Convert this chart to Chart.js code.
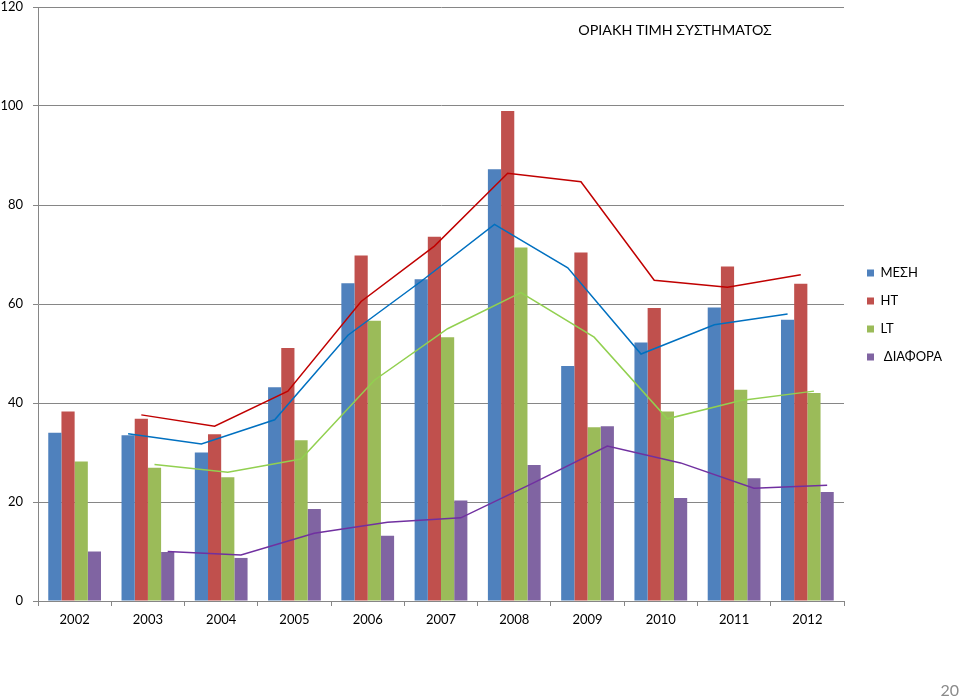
<!DOCTYPE html>
<html><head><meta charset="utf-8">
<script src="https://cdn.jsdelivr.net/npm/chart.js@4/dist/chart.umd.min.js"></script>
<style>html,body{margin:0;padding:0;background:#fff;}#wrap{position:relative;width:960px;height:698px;}canvas{position:absolute;left:0;top:0;display:block;}</style>
</head><body>
<div id="wrap"><canvas id="c" width="960" height="698"></canvas><canvas id="t" width="960" height="698"></canvas></div>
<script>
// ---- data ----
const years = ['2002','2003','2004','2005','2006','2007','2008','2009','2010','2011','2012'];
const seriesNames = ['ΜΕΣΗ', 'ΗΤ', 'LT', ' ΔΙΑΦΟΡΑ'];
const mesi     = [34.0, 33.5, 30.0, 43.2, 64.2, 65.0, 87.2, 47.5, 52.2, 59.3, 56.8];
const ht       = [38.3, 36.8, 33.7, 51.1, 69.8, 73.6, 99.0, 70.4, 59.2, 67.6, 64.1];
const lt       = [28.2, 26.9, 25.0, 32.5, 56.6, 53.3, 71.4, 35.1, 38.3, 42.7, 42.0];
const diafora  = [10.0,  9.9,  8.7, 18.6, 13.2, 20.3, 27.5, 35.3, 20.8, 24.8, 22.0];
// trend lines (2-period moving average lines)
const mesiTrend    = [null, 33.8, 31.7, 36.6, 53.7, 64.6, 76.1, 67.3, 49.9, 55.8, 58.0];
const htTrend      = [null, 37.6, 35.3, 42.4, 60.5, 71.7, 86.4, 84.7, 64.8, 63.4, 65.9];
const ltTrend      = [null, 27.6, 26.0, 28.7, 44.6, 55.0, 62.3, 53.3, 36.8, 40.5, 42.4];
const diaforaTrend = [null, 10.0,  9.3, 13.7, 15.9, 16.8, 23.9, 31.3, 27.9, 22.8, 23.4];
const yTicks = [0, 20, 40, 60, 80, 100, 120];
const titleText = 'ΟΡΙΑΚΗ ΤΙΜΗ ΣΥΣΤΗΜΑΤΟΣ';
const pageNumber = '20';

// ---- styling ----
const FONT = 'Lato, "Open Sans", "DejaVu Sans", sans-serif';
const barColors = ['#4F81BD', '#C0504D', '#9BBB59', '#8064A2'];
const lineColors = ['#0070C0', '#C00000', '#92D050', '#7030A0'];
const GROUP = 0.72; // categoryPercentage of the bar groups
const gridColor = '#868686';
const AREA = { left: 38, right: 116, top: 7, bottom: 97 }; // space around the plot area

const barSeries = [mesi, ht, lt, diafora];
const trendSeries = [mesiTrend, htTrend, ltTrend, diaforaTrend];

const barDatasets = barSeries.map((d, k) => ({
  type: 'bar', label: seriesNames[k], data: d, backgroundColor: barColors[k],
  borderWidth: 0, categoryPercentage: GROUP, barPercentage: 1
}));
const lineDatasets = trendSeries.map((d, k) => {
  const off = (k - 1.5) * GROUP / barSeries.length; // centre of the k-th bar inside a category
  return {
    type: 'line', label: 'trend' + k,
    data: d.map((v, i) => ({x: i + off, y: v})).filter(p => p.y !== null),
    borderColor: lineColors[k], borderWidth: 1.5, pointRadius: 0, tension: 0, fill: false
  };
});

const layoutPlugin = {
  id: 'layoutTweaks',
  beforeLayout(chart) {
    const lg = chart.legend;
    if (lg && !lg._patched) {
      const f = lg.fit;
      lg.fit = function () { f.call(this); this.width = AREA.right; };
      lg._patched = true;
    }
  },
  afterLayout(chart) {
    const lg = chart.legend;
    if (lg) { lg.left = 852; lg.top = 251.5; }
  },
  afterDraw(chart) {
    const ctx = chart.ctx;
    ctx.save();
    ctx.fillStyle = '#000';
    ctx.font = '14.3px ' + FONT;
    ctx.textAlign = 'center';
    ctx.textBaseline = 'middle';
    ctx.fillText(titleText, 675, 30);
    ctx.fillStyle = '#8a8a8a';
    ctx.font = '16px ' + FONT;
    ctx.textAlign = 'right';
    ctx.fillText(pageNumber, 959, 691);
    ctx.restore();
  }
};

// bars, axes, legend
new Chart(document.getElementById('c'), {
  type: 'bar',
  data: { labels: years, datasets: barDatasets },
  options: {
    responsive: false,
    animation: false,
    layout: { padding: { top: AREA.top, right: 0, bottom: 0, left: 0 } },
    plugins: {
      tooltip: { enabled: false },
      title: { display: false },
      legend: {
        position: 'right', align: 'start',
        labels: { boxWidth: 7, boxHeight: 7, padding: 15, color: '#000', font: { family: FONT, size: 13 } }
      }
    },
    scales: {
      x: {
        type: 'category', position: 'bottom', offset: true,
        grid: { offset: true, drawOnChartArea: false, drawTicks: true, tickLength: 5, color: gridColor },
        border: { color: gridColor, width: 1 },
        ticks: { color: '#000', font: { family: FONT, size: 13 }, padding: 6, maxRotation: 0 },
        afterFit(s) { s.height = AREA.bottom; s.paddingLeft = 0; s.paddingRight = 0; }
      },
      y: {
        min: yTicks[0], max: yTicks[yTicks.length - 1],
        afterBuildTicks(s) { s.ticks = yTicks.map(v => ({value: v})); },
        grid: { color: gridColor, tickLength: 5, lineWidth: 1 },
        border: { color: gridColor, width: 1 },
        ticks: { color: '#000', font: { family: FONT, size: 13 }, padding: 10 },
        afterFit(s) { s.width = AREA.left; s.paddingTop = 0; s.paddingBottom = 0; }
      }
    }
  },
  plugins: [layoutPlugin]
});

// trend lines, overlaid on the same plot area
new Chart(document.getElementById('t'), {
  type: 'line',
  data: { datasets: lineDatasets },
  options: {
    responsive: false,
    animation: false,
    layout: { padding: AREA },
    plugins: { legend: { display: false }, tooltip: { enabled: false }, title: { display: false } },
    scales: {
      x: { type: 'linear', display: false, min: -0.5, max: years.length - 0.5 },
      y: { type: 'linear', display: false, min: yTicks[0], max: yTicks[yTicks.length - 1] }
    }
  }
});
</script>
</body></html>
